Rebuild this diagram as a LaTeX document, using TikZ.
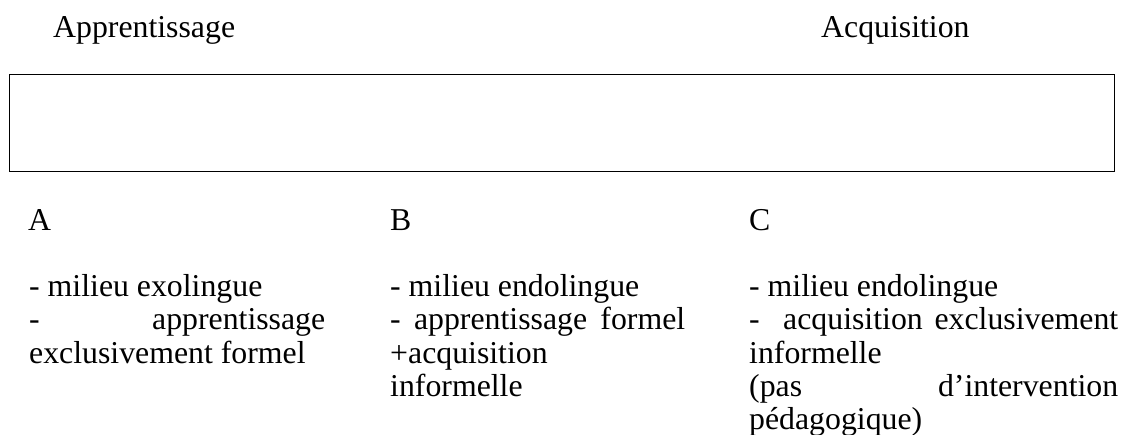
\documentclass[tikz,border=0pt]{standalone}
\usepackage{fontspec}
\setmainfont{Liberation Serif}
\begin{document}
\begin{tikzpicture}[x=1pt,y=-1pt,
  txt/.style={anchor=base west,inner sep=0pt,font=\fontsize{31.8}{33.7}\selectfont},
  bar/.style={draw,line width=1.3pt,inner sep=0pt}]
\useasboundingbox (0,0) rectangle (1122,435);
\node[bar,minimum width=1105pt,minimum height=97pt,anchor=north west] (box) at (9,74) {};
\node[txt] (appr) at (53,38) {Apprentissage};
\node[txt] (acq) at (821,38) {Acquisition};
\node[txt] (hA) at (28,230.7) {A};
\node[txt] (hB) at (390,230.7) {B};
\node[txt] (hC) at (749,230.7) {C};
% column A
\node[txt] (a1) at (29,296.7) {- milieu exolingue};
\node[txt] (a2) at (29,330) {\makebox[296pt][s]{- apprentissage}};
\node[txt] (a3) at (29,363.5) {exclusivement formel};
% column B
\node[txt] (b1) at (390,296.7) {- milieu endolingue};
\node[txt] (b2) at (390,330) {\makebox[295pt][s]{- apprentissage formel}};
\node[txt] (b3) at (390,363.5) {+acquisition};
\node[txt] (b4) at (390,396.7) {informelle};
% column C
\node[txt] (c1) at (749,296.7) {- milieu endolingue};
\node[txt] (c2) at (749,330) {\makebox[369pt][s]{-\ \ acquisition exclusivement}};
\node[txt] (c3) at (749,363.5) {informelle};
\node[txt] (c4) at (749,396.7) {\makebox[369pt][s]{(pas d’intervention}};
\node[txt] (c5) at (749,430) {pédagogique)};
\end{tikzpicture}
\end{document}
